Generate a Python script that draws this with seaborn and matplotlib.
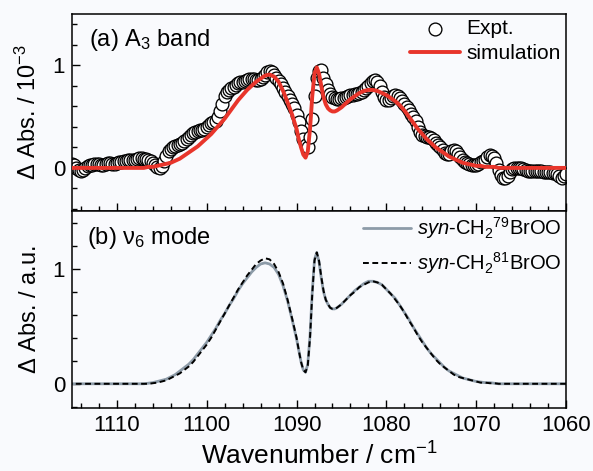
"""
A3 band of syn-CH2BrOO: experiment vs simulation (a) and calculated v6 mode (b).
"""

import numpy as np
import matplotlib
matplotlib.use("Agg")
import matplotlib.pyplot as plt
from matplotlib.ticker import MultipleLocator
import seaborn as sns

# --- panel (a): experimental spectrum, 0.25 cm-1 sampling, 1115 -> 1060
EXPT_WN = np.arange(1115.0, 1059.99, -0.25)
EXPT_ABS = [
    0.04, 0.03, 0.00, -0.02,   -0.03, -0.02, 0.00, 0.02,
    0.03, 0.03, 0.04, 0.04,    0.04, 0.03, 0.03, 0.04,
    0.05, 0.05, 0.04, 0.04,    0.05, 0.06, 0.06, 0.07,
    0.07, 0.08, 0.08, 0.08,    0.08, 0.09, 0.10, 0.10,
    0.09, 0.09, 0.08, 0.07,    0.05, 0.03, 0.01, 0.00,
    0.02, 0.07, 0.12, 0.16,    0.18, 0.20, 0.21, 0.22,
    0.23, 0.24, 0.26, 0.28,    0.30, 0.32, 0.34, 0.35,
    0.36, 0.37, 0.37, 0.38,    0.40, 0.42, 0.44, 0.45,
    0.46, 0.50, 0.55, 0.62,    0.70, 0.74, 0.76, 0.78,
    0.79, 0.81, 0.83, 0.84,    0.84, 0.85, 0.86, 0.87,
    0.87, 0.87, 0.86, 0.86,    0.87, 0.89, 0.91, 0.93,
    0.94, 0.93, 0.91, 0.88,    0.85, 0.82, 0.78, 0.74,
    0.70, 0.66, 0.62, 0.58,    0.52, 0.45, 0.36, 0.28,
    0.22, 0.20, 0.30, 0.48,    0.70, 0.88, 0.94, 0.95,
    0.88, 0.82, 0.76, 0.72,    0.69, 0.68, 0.67, 0.67,
    0.68, 0.68, 0.69, 0.70,    0.71, 0.71, 0.72, 0.72,
    0.73, 0.74, 0.76, 0.78,    0.80, 0.83, 0.85, 0.86,
    0.84, 0.80, 0.74, 0.69,    0.66, 0.66, 0.68, 0.70,
    0.71, 0.70, 0.68, 0.65,    0.62, 0.59, 0.56, 0.53,
    0.50, 0.46, 0.40, 0.35,    0.32, 0.31, 0.30, 0.30,
    0.29, 0.27, 0.24, 0.22,    0.20, 0.17, 0.15, 0.14,
    0.14, 0.16, 0.17, 0.16,    0.14, 0.11, 0.08, 0.06,
    0.05, 0.04, 0.03, 0.03,    0.03, 0.04, 0.06, 0.07,
    0.08, 0.11, 0.13, 0.12,    0.10, 0.05, -0.02, -0.07,
    -0.10, -0.10, -0.08, -0.04, -0.01, 0.00, 0.00, 0.00,
    0.00, -0.01, -0.02, -0.03, -0.03, -0.03, -0.03, -0.03,
    -0.03, -0.03, -0.04, -0.04, -0.04, -0.04, -0.05, -0.05,
    -0.06, -0.08, -0.10, -0.08, -0.06,
]

# --- calculated spectra grid (finer around the sharp Q-branch)
CALC_WN = np.concatenate([
    np.arange(1115.0, 1090.4, -0.5),
    np.arange(1090.0, 1085.4, -0.25),
    np.arange(1085.0, 1059.9, -0.5),
])

SIM_ABS = (
    [0.00] * 17
    + [0.01, 0.01, 0.02, 0.03, 0.04, 0.05, 0.07, 0.09, 0.12, 0.15, 0.18,
       0.21, 0.25, 0.29, 0.33, 0.38, 0.43, 0.48, 0.54, 0.60, 0.66, 0.71,
       0.76, 0.80, 0.84, 0.87, 0.90, 0.91, 0.89, 0.84, 0.75, 0.64, 0.52]
    + [0.38, 0.28, 0.20, 0.13, 0.10, 0.16, 0.38, 0.70, 0.92, 0.98, 0.92,
       0.80, 0.69, 0.62, 0.58, 0.56, 0.55, 0.55, 0.56]
    + [0.59, 0.63, 0.67, 0.70, 0.73, 0.75, 0.76, 0.76, 0.75, 0.73, 0.71,
       0.68, 0.65, 0.61, 0.56, 0.50, 0.44, 0.38, 0.33, 0.28, 0.24, 0.20,
       0.17, 0.14, 0.11, 0.09, 0.07, 0.05, 0.04, 0.03, 0.02, 0.02, 0.01,
       0.01, 0.01]
    + [0.00] * 16
)

BR79_ABS = (
    [0.00] * 17
    + [0.005, 0.01, 0.02, 0.03, 0.04, 0.06, 0.08, 0.11, 0.14, 0.17, 0.21,
       0.26, 0.31, 0.36, 0.42, 0.48, 0.55, 0.61, 0.68, 0.74, 0.81, 0.87,
       0.92, 0.97, 1.01, 1.04, 1.05, 1.04, 1.01, 0.95, 0.85, 0.72, 0.56]
    + [0.39, 0.29, 0.19, 0.12, 0.10, 0.17, 0.42, 0.80, 1.08, 1.14, 1.06,
       0.92, 0.80, 0.73, 0.69, 0.66, 0.65, 0.65, 0.66]
    + [0.69, 0.73, 0.77, 0.81, 0.84, 0.87, 0.89, 0.89, 0.88, 0.86, 0.82,
       0.78, 0.74, 0.68, 0.62, 0.56, 0.49, 0.43, 0.37, 0.31, 0.26, 0.22,
       0.18, 0.14, 0.11, 0.09, 0.07, 0.05, 0.04, 0.03, 0.02, 0.015, 0.01,
       0.01, 0.005]
    + [0.00] * 16
)

BR81_ABS = (
    [0.00] * 17
    + [0.00, 0.005, 0.01, 0.02, 0.03, 0.05, 0.07, 0.09, 0.12, 0.15, 0.19,
       0.24, 0.29, 0.34, 0.40, 0.47, 0.54, 0.61, 0.68, 0.75, 0.82, 0.88,
       0.94, 0.99, 1.04, 1.07, 1.09, 1.08, 1.04, 0.97, 0.87, 0.73, 0.57]
    + [0.40, 0.29, 0.19, 0.12, 0.10, 0.16, 0.40, 0.78, 1.07, 1.14, 1.07,
       0.93, 0.81, 0.73, 0.69, 0.66, 0.65, 0.65, 0.66]
    + [0.69, 0.73, 0.77, 0.80, 0.84, 0.86, 0.88, 0.89, 0.88, 0.86, 0.82,
       0.78, 0.73, 0.68, 0.62, 0.55, 0.49, 0.42, 0.36, 0.31, 0.26, 0.21,
       0.17, 0.14, 0.11, 0.08, 0.06, 0.05, 0.04, 0.03, 0.02, 0.01, 0.01,
       0.005, 0.005]
    + [0.00] * 16
)

BG = "#f9fafd"
RED = "#e8352b"
GRAY = "#8d9ba8"

sns.set_theme(style="ticks")
plt.rcParams["font.family"] = ["Liberation Sans", "DejaVu Sans"]
plt.rcParams["mathtext.fontset"] = "custom"
plt.rcParams["mathtext.rm"] = "Liberation Sans"
plt.rcParams["mathtext.it"] = "Liberation Sans:italic"
plt.rcParams["axes.linewidth"] = 1.1
plt.rcParams["axes.edgecolor"] = "black"
plt.rcParams["text.color"] = "black"
plt.rcParams["axes.labelcolor"] = "black"

fig = plt.figure(figsize=(5.93, 4.71), dpi=100, facecolor=BG)
ax_a = fig.add_axes([0.1214, 0.552, 0.8331, 0.4183], facecolor=BG)
ax_b = fig.add_axes([0.1214, 0.1338, 0.8331, 0.4182], facecolor=BG, sharex=ax_a)

# (a) experiment + simulation
sns.scatterplot(x=EXPT_WN, y=EXPT_ABS, ax=ax_a, marker="o", s=85,
                facecolor="white", edgecolor="black", linewidth=0.95,
                label="Expt.", zorder=2)
sns.lineplot(x=CALC_WN, y=SIM_ABS, ax=ax_a, color=RED, linewidth=2.8,
             label="simulation", zorder=3)
ax_a.set_ylim(-0.42, 1.5)
ax_a.set_ylabel(r"$\Delta$ Abs. / 10$^{-3}$", fontsize=17)
ax_a.text(0.035, 0.935, r"(a) A$_3$ band", transform=ax_a.transAxes,
          ha="left", va="top", fontsize=17)
ax_a.legend(loc="upper right", frameon=False, fontsize=15,
            handlelength=2.4, handletextpad=0.3, labelspacing=0.3,
            borderaxespad=0.1, borderpad=0.15)

# (b) calculated v6 mode
sns.lineplot(x=CALC_WN, y=BR79_ABS, ax=ax_b, color=GRAY, linewidth=2.0,
             label=r"$\mathit{syn}$-CH$_2$$^{79}$BrOO")
sns.lineplot(x=CALC_WN, y=BR81_ABS, ax=ax_b, color="black", linewidth=1.4,
             linestyle=(0, (3.0, 1.8)),
             label=r"$\mathit{syn}$-CH$_2$$^{81}$BrOO")
ax_b.set_ylim(-0.21, 1.5)
ax_b.set_ylabel(r"$\Delta$ Abs. / a.u.", fontsize=17)
ax_b.text(0.03, 0.93, r"(b) ν$_6$ mode", transform=ax_b.transAxes,
          ha="left", va="top", fontsize=17)
ax_b.legend(loc="upper right", frameon=False, fontsize=14.5,
            handlelength=2.4, handletextpad=0.3, labelspacing=0.45,
            borderaxespad=0.1, borderpad=0.1)
ax_b.set_xlabel(r"Wavenumber / cm$^{-1}$", fontsize=19, labelpad=5)

ax_b.set_xlim(1115, 1060)
for ax in (ax_a, ax_b):
    ax.yaxis.set_major_locator(MultipleLocator(1))
    ax.yaxis.set_minor_locator(MultipleLocator(0.2))
    ax.xaxis.set_major_locator(MultipleLocator(10))
    ax.xaxis.set_minor_locator(MultipleLocator(2))
    ax.tick_params(which="both", direction="in", top=False, right=False,
                   width=1.0, colors="black", labelsize=16, pad=5)
    ax.tick_params(which="major", length=6)
    ax.tick_params(which="minor", length=3.5)
    for sp in ax.spines.values():
        sp.set_visible(True)
        sp.set_color("black")
    ax.yaxis.set_label_coords(-0.062, 0.5)
ax_a.tick_params(axis="x", labelbottom=False)
ax_a.set_xlabel("")

fig.savefig("out.png", dpi=100, facecolor=BG)
